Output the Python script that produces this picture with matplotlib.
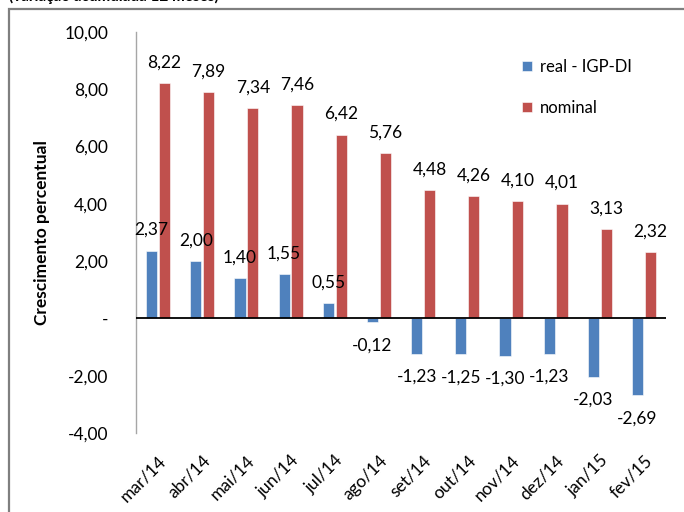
import matplotlib.pyplot as plt
import matplotlib.patches as mpatches
import numpy as np

# Data
meses = ['mar/14', 'abr/14', 'mai/14', 'jun/14', 'jul/14', 'ago/14',
         'set/14', 'out/14', 'nov/14', 'dez/14', 'jan/15', 'fev/15']
real_igp = [2.37, 2.00, 1.40, 1.55, 0.55, -0.12, -1.23, -1.25, -1.30, -1.23, -2.03, -2.69]
nominal = [8.22, 7.89, 7.34, 7.46, 6.42, 5.76, 4.48, 4.26, 4.10, 4.01, 3.13, 2.32]
y_ticks = [-4, -2, 0, 2, 4, 6, 8, 10]

plt.rcParams['font.family'] = ['Lato', 'DejaVu Sans']

def fmt(v):
    if abs(v) < 1e-9:
        return '-'
    return f'{v:.2f}'.replace('.', ',')

fig = plt.figure(figsize=(6.84, 5.12), dpi=100)
ax = fig.add_axes([136 / 684, 79 / 512, 530 / 684, 401 / 512])

# Outer frame (the chart is cropped at top, right and bottom)
fig.patches.append(mpatches.Rectangle((8.5 / 684, -0.1), 1.2, 1 - 8.5 / 512 + 0.1,
                                      transform=fig.transFigure, fill=False,
                                      edgecolor='#7f7f7f', linewidth=1.6))
fig.text(9 / 684, 1 - 0.5 / 512, '(variação acumulada 12 meses)', fontsize=11,
         fontweight='bold', va='baseline', ha='left')

x = np.arange(len(meses))
w = 0.25
off = 0.145
b1 = ax.bar(x - off, real_igp, w, color='#4F81BD', edgecolor='white', linewidth=0.4,
            label='real - IGP-DI', zorder=2)
b2 = ax.bar(x + off, nominal, w, color='#C0504D', edgecolor='white', linewidth=0.4,
            label='nominal', zorder=2)

for bars, vals in ((b1, real_igp), (b2, nominal)):
    for b, v in zip(bars, vals):
        cx = b.get_x() + b.get_width() / 2
        if v >= 0:
            ax.annotate(fmt(v), (cx, v), xytext=(0, 9), textcoords='offset points',
                        ha='center', va='bottom', fontsize=12.5)
        else:
            ax.annotate(fmt(v), (cx, v), xytext=(0, -11), textcoords='offset points',
                        ha='center', va='top', fontsize=12.5)

ax.axhline(0, color='black', linewidth=1.3, zorder=3)
ax.set_xlim(-0.5, len(meses) - 0.5)
ax.set_ylim(-4, 10)
ax.set_yticks(y_ticks)
ax.set_yticklabels([fmt(v) for v in y_ticks], fontsize=12.5)
ax.set_xticks(x)
ax.set_xticklabels(meses, rotation=45, ha='right', rotation_mode='anchor', fontsize=12.5)
ax.tick_params(axis='y', length=0, pad=20)
ax.tick_params(axis='x', length=0, pad=14)

for s in ['top', 'right', 'bottom']:
    ax.spines[s].set_visible(False)
ax.spines['left'].set_color('#a6a6a6')
ax.spines['left'].set_linewidth(1)

ax.set_ylabel('Crescimento percentual', fontsize=12.5, fontweight='bold', labelpad=10)

ax.legend(loc='upper left', bbox_to_anchor=(0.70, 0.97), frameon=False, fontsize=12,
          handlelength=0.6, handleheight=0.6, handletextpad=0.5, labelspacing=1.5)

fig.savefig('out.png', dpi=100)
